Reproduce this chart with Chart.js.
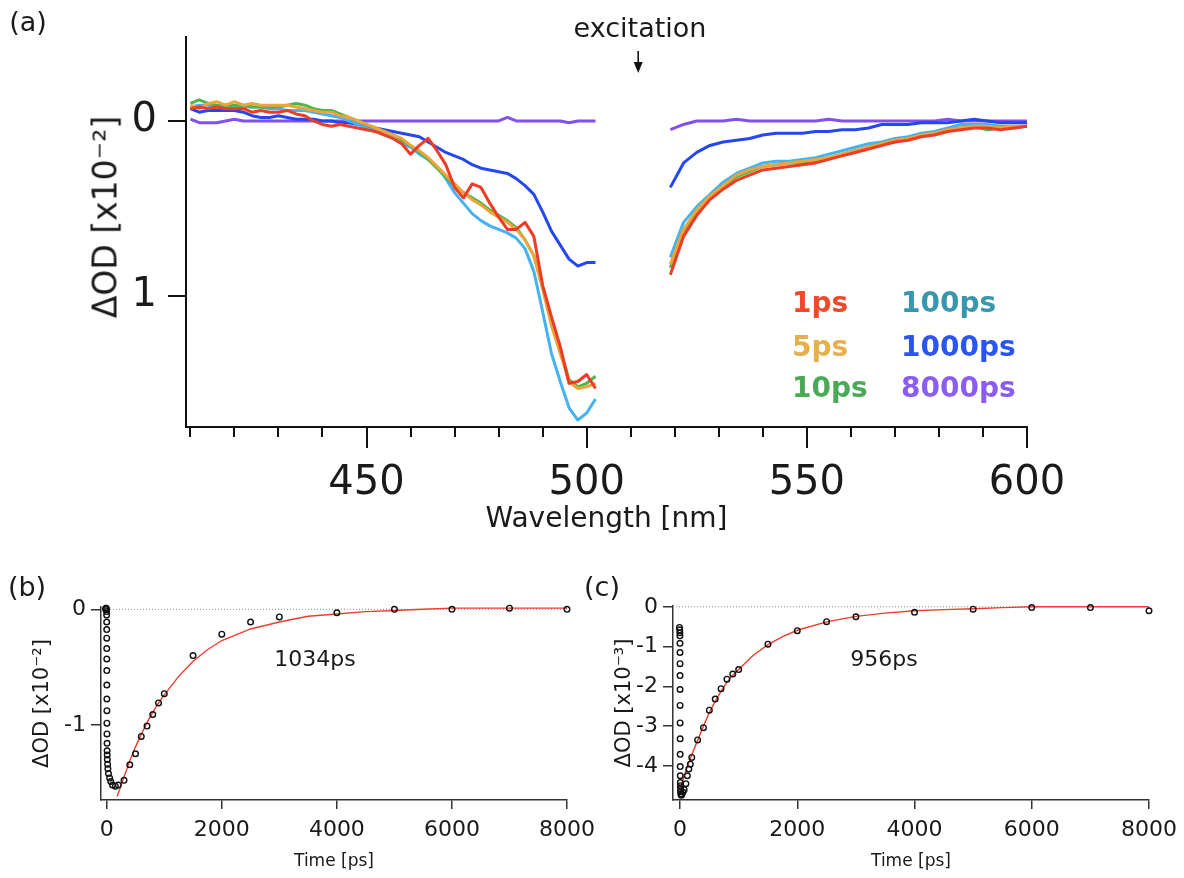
<!DOCTYPE html>
<html>
<head>
<meta charset="utf-8">
<script src="https://cdn.jsdelivr.net/npm/chart.js@4.4.1/dist/chart.umd.min.js"></script>
<style>
  body { margin: 0; background: #fff; width: 1184px; height: 878px; position: relative; overflow: hidden;
         font-family: 'DejaVu Sans', sans-serif; color: #1a1a1a; }
  canvas { position: absolute; }
  .lbl { position: absolute; white-space: nowrap; line-height: 1; transform: translate(-50%, -50%); }
  .leg { position: absolute; white-space: nowrap; line-height: 1; transform: translate(0, -50%);
         font-weight: bold; font-size: 28px; }
</style>
</head>
<body>
<canvas id="chartA" width="1184" height="560" style="left:0;top:0"></canvas>
<canvas id="chartB" width="603" height="318" style="left:0;top:560px"></canvas>
<canvas id="chartC" width="595" height="318" style="left:590px;top:560px"></canvas>

<div class="lbl" style="left:28px;top:21px;font-size:27px">(a)</div>
<div class="lbl" style="left:27px;top:586px;font-size:27px">(b)</div>
<div class="lbl" style="left:602px;top:586px;font-size:27px">(c)</div>
<div class="lbl" style="left:640px;top:27px;font-size:27px">excitation</div>
<div class="lbl" style="left:105px;top:217px;font-size:33px;transform:translate(-50%,-50%) rotate(-90deg)">ΔOD [x10⁻²]</div>
<div class="lbl" style="left:315px;top:659px;font-size:22px">1034ps</div>
<div class="lbl" style="left:884px;top:659px;font-size:22px">956ps</div>
<div id="legend"></div>

<script>
// ---- panel (a): transient spectra, ΔOD in units of 1e-2 (bleach plotted downward) ----
const wavelength = [
  410, 412, 414, 416, 418, 420, 422, 424, 426, 428,
  430, 432, 434, 436, 438, 440, 442, 444, 446, 448,
  450, 452, 454, 456, 458, 460, 462, 464, 466, 468,
  470, 472, 474, 476, 478, 480, 482, 484, 486, 488,
  490, 492, 494, 496, 498, 500, 502,
  510,
  519, 522, 525, 528, 531, 534, 537, 540, 543, 546,
  549, 552, 555, 558, 561, 564, 567, 570, 573, 576,
  579, 582, 585, 588, 591, 594, 597, 600
];
const od1ps = [
  -0.07, -0.08, -0.07, -0.08, -0.07, -0.07, -0.07, -0.05, -0.06, -0.05,
  -0.05, -0.06, -0.04, -0.03, 0.00, 0.02, 0.03, 0.02, 0.03, 0.04,
  0.05, 0.06, 0.08, 0.10, 0.13, 0.19, 0.14, 0.10, 0.17, 0.25,
  0.38, 0.44, 0.36, 0.38, 0.47, 0.55, 0.62, 0.62, 0.58, 0.66,
  0.94, 1.12, 1.29, 1.50, 1.49, 1.45, 1.53,
  null,
  0.88, 0.66, 0.54, 0.45, 0.39, 0.34, 0.31, 0.28, 0.27, 0.26,
  0.25, 0.24, 0.22, 0.20, 0.18, 0.16, 0.14, 0.12, 0.11, 0.09,
  0.08, 0.06, 0.05, 0.04, 0.04, 0.05, 0.04, 0.03
];
const od5ps = [
  -0.09, -0.07, -0.10, -0.11, -0.09, -0.11, -0.09, -0.10, -0.09, -0.09,
  -0.09, -0.09, -0.08, -0.07, -0.06, -0.05, -0.05, -0.03, -0.02, 0.00,
  0.02, 0.04, 0.06, 0.08, 0.10, 0.14, 0.17, 0.21, 0.26, 0.31,
  0.36, 0.41, 0.45, 0.48, 0.52, 0.55, 0.58, 0.62, 0.68, 0.77,
  0.96, 1.17, 1.33, 1.49, 1.53, 1.52, 1.50,
  null,
  0.82, 0.62, 0.51, 0.43, 0.37, 0.31, 0.28, 0.26, 0.25, 0.24,
  0.23, 0.22, 0.21, 0.19, 0.17, 0.15, 0.13, 0.11, 0.10, 0.08,
  0.07, 0.05, 0.04, 0.03, 0.03, 0.04, 0.03, 0.03
];
const od10ps = [
  -0.10, -0.12, -0.10, -0.09, -0.09, -0.09, -0.09, -0.08, -0.08, -0.08,
  -0.08, -0.09, -0.10, -0.09, -0.07, -0.06, -0.06, -0.04, -0.02, 0.00,
  0.02, 0.04, 0.06, 0.08, 0.11, 0.14, 0.18, 0.22, 0.27, 0.32,
  0.37, 0.41, 0.44, 0.47, 0.51, 0.54, 0.57, 0.61, 0.68, 0.77,
  0.95, 1.15, 1.31, 1.48, 1.52, 1.50, 1.46,
  null,
  0.84, 0.63, 0.52, 0.44, 0.38, 0.32, 0.29, 0.26, 0.25, 0.24,
  0.24, 0.23, 0.21, 0.19, 0.17, 0.15, 0.13, 0.12, 0.10, 0.08,
  0.07, 0.05, 0.04, 0.03, 0.05, 0.04, 0.04, 0.03
];
const od100ps = [
  -0.08, -0.09, -0.09, -0.08, -0.08, -0.08, -0.08, -0.08, -0.08, -0.07,
  -0.07, -0.06, -0.06, -0.06, -0.05, -0.04, -0.03, -0.02, 0.00, 0.02,
  0.04, 0.06, 0.08, 0.10, 0.13, 0.15, 0.19, 0.22, 0.26, 0.33,
  0.41, 0.47, 0.53, 0.57, 0.60, 0.62, 0.64, 0.67, 0.73, 0.86,
  1.09, 1.33, 1.49, 1.64, 1.71, 1.67, 1.59,
  null,
  0.78, 0.58, 0.49, 0.42, 0.35, 0.30, 0.27, 0.24, 0.23, 0.23,
  0.22, 0.21, 0.19, 0.17, 0.15, 0.13, 0.12, 0.10, 0.09, 0.07,
  0.06, 0.04, 0.02, 0.02, 0.02, 0.03, 0.03, 0.03
];
const od1000ps = [
  -0.07, -0.05, -0.06, -0.06, -0.06, -0.06, -0.05, -0.03, -0.02, -0.02,
  -0.03, -0.02, -0.01, -0.01, -0.01, 0.00, 0.00, 0.01, 0.01, 0.02,
  0.03, 0.04, 0.05, 0.06, 0.07, 0.08, 0.09, 0.12, 0.15, 0.18,
  0.20, 0.22, 0.25, 0.27, 0.28, 0.29, 0.30, 0.33, 0.37, 0.42,
  0.52, 0.63, 0.71, 0.79, 0.83, 0.81, 0.81,
  null,
  0.38, 0.24, 0.18, 0.14, 0.12, 0.11, 0.10, 0.08, 0.07, 0.07,
  0.07, 0.06, 0.06, 0.05, 0.05, 0.04, 0.02, 0.02, 0.02, 0.01,
  0.01, 0.01, 0.00, -0.01, 0.00, 0.01, 0.01, 0.01
];
const od8000ps = [
  -0.01, 0.01, 0.01, 0.01, 0.00, -0.01, 0.00, 0.00, 0.00, 0.00,
  0.00, 0.00, 0.00, 0.00, 0.00, 0.00, 0.00, 0.00, 0.00, 0.00,
  0.00, 0.00, 0.00, 0.00, 0.00, 0.00, 0.00, 0.00, 0.00, 0.00,
  0.00, 0.00, 0.00, 0.00, 0.00, 0.00, -0.02, 0.00, 0.00, 0.00,
  0.00, 0.00, 0.00, 0.01, 0.00, 0.00, 0.00,
  null,
  0.05, 0.02, 0.00, 0.00, 0.00, -0.01, 0.00, 0.00, 0.00, 0.00,
  0.00, 0.00, -0.01, 0.00, 0.00, 0.00, 0.00, 0.00, 0.00, 0.00,
  0.00, -0.01, 0.00, 0.00, 0.00, 0.00, 0.00, 0.00
];
const seriesNames = ['1ps', '5ps', '10ps', '100ps', '1000ps', '8000ps'];
const lineColors = ['#ee3d24', '#eda43a', '#4db64a', '#45b3f2', '#2447f2', '#8150ee'];
const legendColors = ['#ec4a2a', '#e6b04c', '#4aa957', '#3896ad', '#2a55f0', '#8a5cf0'];
const wlTicks = [450, 500, 550, 600];
const wlMinorTicks = [410, 420, 430, 440, 450, 460, 470, 480, 490, 500,
                      510, 520, 530, 540, 550, 560, 570, 580, 590, 600];
const odTicksA = [0, 1];
const excitationNm = 511.7;

// ---- panel (b): kinetics, units of 1e-2 ----
const timeB = [-20, -15, -10, -5, -3, -2, -1, -0.5,
  0, 0.3, 0.6, 1, 1.5, 2, 2.5, 3,
  4, 5, 6, 8, 10,
  15, 20, 30, 50, 70,
  100, 150, 200,
  300, 400, 500, 600, 700, 800, 900, 1000,
  1500, 2000, 2500, 3000,
  4000, 5000, 6000, 7000, 8000];
const odB = [0.00, 0.01, 0.01, 0.00, -0.02, -0.05, -0.11, -0.175,
  -0.25, -0.34, -0.43, -0.53, -0.655, -0.776, -0.877, -0.985,
  -1.078, -1.16, -1.224, -1.26, -1.30,
  -1.34, -1.38, -1.42, -1.46, -1.49,
  -1.52, -1.53, -1.52,
  -1.48, -1.345, -1.25, -1.10, -1.01, -0.91, -0.81, -0.73,
  -0.40, -0.215, -0.11, -0.066,
  -0.03, 0.00, 0.00, 0.01, 0.00];
const fitTimeB = [180, 300, 400, 500, 600, 700, 800, 900, 1000, 1250, 1500, 1750,
  2000, 2500, 3000, 3500, 4000, 4500, 5000, 5500, 6000, 7000, 8000];
const fitB = [-1.62, -1.45, -1.31, -1.19, -1.08, -0.98, -0.89, -0.81, -0.74, -0.58, -0.45, -0.35,
  -0.27, -0.17, -0.11, -0.06, -0.04, -0.02, -0.01, 0.00, 0.01, 0.01, 0.01];
const odTicksB = [0, -1];

// ---- panel (c): kinetics, units of 1e-3 ----
const timeC = [-10, -5, -3, -2, -1, -0.5,
  0, 0.3, 0.6, 1, 1.5, 2, 2.5, 3,
  4, 5, 6, 8, 10,
  15, 20, 30, 50, 70,
  100, 125, 150, 175, 200,
  300, 400, 500, 600, 700, 800, 900, 1000,
  1500, 2000, 2500, 3000,
  4000, 5000, 6000, 7000, 8000];
const odC = [-0.52, -0.58, -0.65, -0.73, -0.92, -1.15,
  -1.43, -1.73, -2.08, -2.48, -2.92, -3.32, -3.71, -4.02,
  -4.25, -4.42, -4.50, -4.58, -4.65,
  -4.71, -4.74, -4.72, -4.66, -4.60,
  -4.45, -4.25, -4.08, -3.96, -3.79,
  -3.35, -3.04, -2.60, -2.32, -2.06, -1.82, -1.69, -1.58,
  -0.94, -0.60, -0.375, -0.25,
  -0.14, -0.06, -0.02, -0.02, -0.10];
const fitTimeC = [0, 100, 200, 300, 400, 500, 600, 700, 800, 900, 1000, 1250, 1500, 1750,
  2000, 2500, 3000, 3500, 4000, 4500, 5000, 5500, 6000, 7000, 8000];
const fitC = [-4.58, -4.12, -3.72, -3.36, -3.00, -2.66, -2.38, -2.12, -1.90, -1.72, -1.58, -1.22, -0.95, -0.75,
  -0.59, -0.38, -0.24, -0.16, -0.10, -0.07, -0.05, -0.02, 0.00, 0.00, 0.00];
const odTicksC = [0, -1, -2, -3, -4];
const timeTicks = [0, 2000, 4000, 6000, 8000];

Chart.defaults.font.family = "'DejaVu Sans', sans-serif";
Chart.defaults.color = '#1a1a1a';

// legend of panel (a)
const legendPos = [[792, 303], [792, 347], [792, 388], [901, 303], [901, 347], [901, 388]];
document.getElementById('legend').innerHTML = seriesNames.map((n, i) =>
  `<div class="leg" style="left:${legendPos[i][0]}px;top:${legendPos[i][1]}px;color:${legendColors[i]}">${n}</div>`
).join('');

// tick marks (minor + major) and excitation arrow for panel (a)
const wlTickMarks = {
  id: 'wlTickMarks',
  afterDraw(chart) {
    const sx = chart.scales.x;
    const ctx = chart.ctx;
    ctx.save();
    ctx.strokeStyle = '#111';
    ctx.lineWidth = 2;
    wlMinorTicks.forEach(v => {
      const px = Math.round(sx.getPixelForValue(v));
      const len = wlTicks.includes(v) ? 21 : 10;
      ctx.beginPath();
      ctx.moveTo(px, sx.top);
      ctx.lineTo(px, sx.top + len);
      ctx.stroke();
    });
    const ax = sx.getPixelForValue(excitationNm);
    ctx.lineWidth = 1.6;
    ctx.beginPath();
    ctx.moveTo(ax, 51);
    ctx.lineTo(ax, 65);
    ctx.stroke();
    ctx.fillStyle = '#111';
    ctx.beginPath();
    ctx.moveTo(ax - 4.5, 62);
    ctx.lineTo(ax + 4.5, 62);
    ctx.lineTo(ax, 73);
    ctx.closePath();
    ctx.fill();
    ctx.restore();
  }
};

const seriesA = [od1ps, od5ps, od10ps, od100ps, od1000ps, od8000ps];

new Chart(document.getElementById('chartA'), {
  type: 'line',
  data: {
    datasets: seriesA.map((vals, i) => ({
      label: seriesNames[i],
      data: wavelength.map((w, j) => ({ x: w, y: vals[j] })),
      borderColor: lineColors[i],
      borderWidth: 3,
      pointRadius: 0,
      tension: 0,
      spanGaps: false,
      borderJoinStyle: 'round'
    }))
  },
  options: {
    responsive: false,
    animation: false,
    layout: { padding: { left: 0, top: 37, right: 157, bottom: 19 } },
    plugins: { legend: { display: false }, tooltip: { enabled: false } },
    scales: {
      x: {
        type: 'linear',
        min: 409,
        max: 600,
        afterBuildTicks: s => { s.ticks = wlTicks.map(v => ({ value: v })); },
        afterFit: s => { s.height = 114; },
        grid: { display: false, drawTicks: false },
        border: { display: true, color: '#111', width: 2 },
        ticks: { font: { size: 40 }, padding: 33, color: '#1a1a1a', maxRotation: 0, callback: v => String(v) },
        title: { display: true, text: 'Wavelength [nm]', font: { size: 28 }, color: '#1a1a1a',
                 padding: { top: 0, bottom: 4 } }
      },
      y: {
        min: -0.48,
        max: 1.75,
        reverse: true,
        afterBuildTicks: s => { s.ticks = odTicksA.map(v => ({ value: v })); },
        afterFit: s => { s.width = 186; },
        grid: { drawOnChartArea: false, tickLength: 18, color: '#111', lineWidth: 2 },
        border: { display: true, color: '#111', width: 2 },
        ticks: { font: { size: 40 }, padding: 11, color: '#1a1a1a', callback: v => String(v) }
      }
    }
  },
  plugins: [wlTickMarks]
});

function kineticsChart(id, p) {
  return new Chart(document.getElementById(id), {
    type: 'scatter',
    data: {
      datasets: [
        {
          data: p.t.map((t, i) => ({ x: t, y: p.v[i] })),
          pointStyle: 'circle',
          pointRadius: 2.8,
          borderColor: '#111',
          backgroundColor: 'rgba(255,255,255,0)',
          borderWidth: 1.4,
          showLine: false,
          clip: false,
          order: 0
        },
        {
          data: p.fitT.map((t, i) => ({ x: t, y: p.fitV[i] })),
          showLine: true,
          borderColor: '#ec3d2c',
          borderWidth: 1.4,
          pointRadius: 0,
          order: 1
        },
        {
          data: [{ x: p.xMin, y: 0 }, { x: 8000, y: 0 }],
          showLine: true,
          borderColor: '#8a8a8a',
          borderWidth: 1,
          borderDash: [1, 2],
          pointRadius: 0,
          order: 2
        }
      ]
    },
    options: {
      responsive: false,
      animation: false,
      layout: { padding: p.pad },
      plugins: { legend: { display: false }, tooltip: { enabled: false } },
      scales: {
        x: {
          type: 'linear',
          min: p.xMin,
          max: 8000,
          afterBuildTicks: s => { s.ticks = timeTicks.map(v => ({ value: v })); },
          afterFit: s => { s.height = 76; },
          grid: { drawOnChartArea: false, tickLength: 9, color: '#333', lineWidth: 1.5 },
          border: { display: true, color: '#333', width: 1.5 },
          ticks: { font: { size: 22 }, padding: 8, color: '#1a1a1a', maxRotation: 0, callback: v => String(v) },
          title: { display: true, text: 'Time [ps]', font: { size: 17 }, color: '#1a1a1a',
                   padding: { top: 0, bottom: 4 } }
        },
        y: {
          min: p.yMin,
          max: 0.02,
          afterBuildTicks: s => { s.ticks = p.yTicks.map(v => ({ value: v })); },
          afterFit: s => { s.width = p.yWidth; },
          grid: { drawOnChartArea: false, tickLength: 10, color: '#333', lineWidth: 1.5 },
          border: { display: true, color: '#333', width: 1.5 },
          ticks: { font: { size: 22 }, padding: 5, color: '#1a1a1a', callback: v => String(v) },
          title: { display: true, text: p.yTitle, font: { size: 21 }, color: '#1a1a1a',
                   padding: { top: p.titlePad, bottom: 0 } }
        }
      }
    }
  });
}

kineticsChart('chartB', {
  t: timeB, v: odB, fitT: fitTimeB, fitV: fitB,
  xMin: -100, yMin: -1.65, yTicks: odTicksB, yWidth: 101,
  yTitle: 'ΔOD [x10⁻²]', titlePad: 30,
  pad: { left: 0, top: 47, right: 36, bottom: 2 }
});

kineticsChart('chartC', {
  t: timeC, v: odC, fitT: fitTimeC, fitV: fitC,
  xMin: -120, yMin: -4.86, yTicks: odTicksC, yWidth: 83,
  yTitle: 'ΔOD [x10⁻³]', titlePad: 22,
  pad: { left: 0, top: 46, right: 36, bottom: 2 }
});
</script>
</body>
</html>
